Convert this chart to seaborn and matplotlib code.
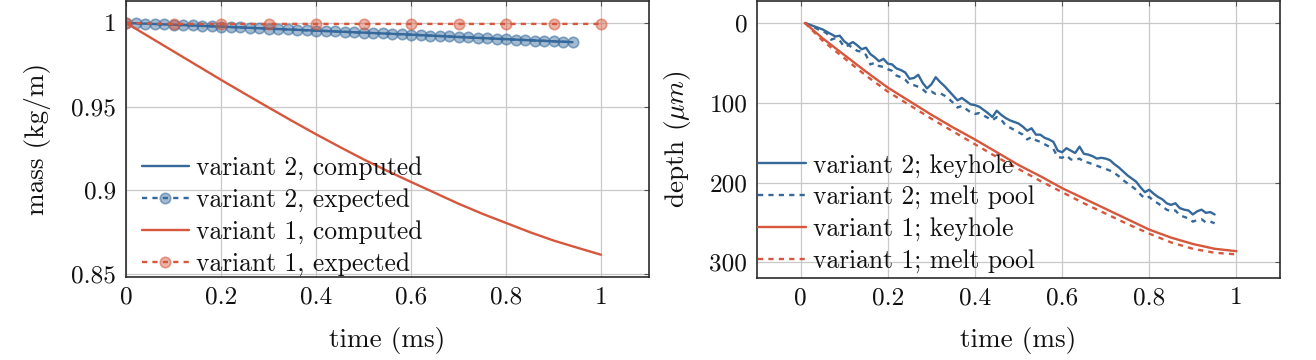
import matplotlib
matplotlib.use("Agg")
import matplotlib.pyplot as plt
from matplotlib.ticker import FuncFormatter, MultipleLocator
import seaborn as sns

BLUE = "#35699b"
RED = "#d7573d"

# ---- left panel: mass over time ----
t_v2 = [0.00, 0.02, 0.04, 0.06, 0.08, 0.10, 0.12, 0.14, 0.16, 0.18,
        0.20, 0.22, 0.24, 0.26, 0.28, 0.30, 0.32, 0.34, 0.36, 0.38,
        0.40, 0.42, 0.44, 0.46, 0.48, 0.50, 0.52, 0.54, 0.56, 0.58,
        0.60, 0.62, 0.64, 0.66, 0.68, 0.70, 0.72, 0.74, 0.76, 0.78,
        0.80, 0.82, 0.84, 0.86, 0.88, 0.90, 0.92, 0.94]
mass_v2_expected = [1.0000, 0.9998, 0.9996, 0.9994, 0.9991, 0.9989, 0.9987, 0.9985, 0.9982, 0.9980,
                    0.9978, 0.9976, 0.9973, 0.9971, 0.9969, 0.9966, 0.9964, 0.9961, 0.9959, 0.9956,
                    0.9954, 0.9952, 0.9949, 0.9947, 0.9944, 0.9942, 0.9940, 0.9937, 0.9935, 0.9932,
                    0.9930, 0.9927, 0.9924, 0.9922, 0.9919, 0.9916, 0.9914, 0.9911, 0.9908, 0.9906,
                    0.9903, 0.9900, 0.9898, 0.9895, 0.9893, 0.9890, 0.9888, 0.9885]
t_v2_comp = [0.0, 0.1, 0.2, 0.3, 0.4, 0.5, 0.6, 0.7, 0.8, 0.9, 0.94]
mass_v2_computed = [1.0, 0.9989, 0.9978, 0.9966, 0.9954, 0.9942, 0.9930, 0.9916, 0.9903, 0.9890, 0.9885]

t_v1 = [0.0, 0.05, 0.1, 0.15, 0.2, 0.25, 0.3, 0.35, 0.4, 0.45, 0.5,
        0.55, 0.6, 0.65, 0.7, 0.75, 0.8, 0.85, 0.9, 0.95, 1.0]
mass_v1_computed = [1.0, 0.9915, 0.983, 0.9745, 0.966, 0.9577, 0.9495, 0.9414, 0.9335, 0.9259, 0.9185,
                    0.9116, 0.905, 0.8985, 0.892, 0.886, 0.8805, 0.875, 0.870, 0.8657, 0.8615]
t_v1_exp = [0.0, 0.1, 0.2, 0.3, 0.4, 0.5, 0.6, 0.7, 0.8, 0.9, 1.0]
mass_v1_expected = [1.0, 0.9994, 0.9994, 0.9994, 0.9994, 0.9994, 0.9994, 0.9994, 0.9994, 0.9994, 0.9994]

# ---- right panel: depth over time ----
t_d2 = [0.01, 0.02, 0.03, 0.04, 0.05, 0.06, 0.07, 0.08, 0.09, 0.10,
        0.11, 0.12, 0.13, 0.14, 0.15, 0.16, 0.17, 0.18, 0.19, 0.20,
        0.21, 0.22, 0.23, 0.24, 0.25, 0.26, 0.27, 0.28, 0.29, 0.30,
        0.31, 0.32, 0.33, 0.34, 0.35, 0.36, 0.37, 0.38, 0.39, 0.40,
        0.41, 0.42, 0.43, 0.44, 0.45, 0.46, 0.47, 0.48, 0.49, 0.50,
        0.51, 0.52, 0.53, 0.54, 0.55, 0.56, 0.57, 0.58, 0.59, 0.60,
        0.61, 0.62, 0.63, 0.64, 0.65, 0.66, 0.67, 0.68, 0.69, 0.70,
        0.71, 0.72, 0.73, 0.74, 0.75, 0.76, 0.77, 0.78, 0.79, 0.80,
        0.81, 0.82, 0.83, 0.84, 0.85, 0.86, 0.87, 0.88, 0.89, 0.90,
        0.91, 0.92, 0.93, 0.94, 0.95]
keyhole_v2 = [0, 2, 4, 6, 8, 11, 14, 17, 16, 23,
              27, 24, 28, 33, 31, 39, 43, 48, 45, 51,
              52, 57, 59, 62, 70, 69, 65, 75, 82, 77,
              68, 74, 79, 85, 91, 97, 94, 98, 102, 103,
              105, 109, 113, 118, 110, 115, 119, 122, 124, 126,
              130, 135, 132, 140, 140, 144, 146, 149, 160, 162,
              157, 160, 163, 155, 164, 165, 167, 170, 169, 170,
              172, 177, 181, 186, 191, 195, 199, 206, 212, 209,
              214, 218, 221, 226, 228, 226, 232, 234, 235, 240,
              236, 234, 238, 237, 240]
meltpool_v2 = [0, 3, 5, 8, 10, 13, 21, 19, 22, 30,
               28, 31, 35, 36, 40, 52, 50, 54, 55, 58,
               60, 66, 68, 71, 77, 78, 80, 83, 88, 86,
               89, 88, 91, 95, 100, 106, 104, 108, 112, 114,
               113, 116, 119, 122, 118, 121, 128, 131, 134, 137,
               140, 146, 143, 147, 149, 152, 155, 158, 168, 169,
               166, 171, 172, 170, 174, 175, 177, 179, 181, 183,
               185, 188, 192, 197, 201, 205, 209, 215, 220, 218,
               223, 226, 230, 234, 236, 235, 241, 243, 245, 249,
               247, 246, 250, 249, 251]

t_d1 = [0.01, 0.05, 0.10, 0.15, 0.20, 0.25, 0.30, 0.35, 0.40, 0.45, 0.50,
        0.55, 0.60, 0.65, 0.70, 0.75, 0.80, 0.85, 0.90, 0.95, 1.00]
keyhole_v1 = [0, 19, 40, 61, 81, 98, 115, 131, 146, 162, 178,
              192, 207, 220, 233, 246, 259, 269, 277, 283, 286]
meltpool_v1 = [0, 22, 44, 66, 86, 103, 120, 136, 152, 168, 183,
               198, 212, 226, 239, 252, 264, 275, 283, 288, 290]

sns.set_theme(style="whitegrid")
plt.rcParams.update({
    "font.family": ["cmr10"],
    "mathtext.fontset": "cm",
    "axes.formatter.use_mathtext": True,
    "axes.edgecolor": "#2b2b2b",
    "axes.linewidth": 1.2,
    "grid.color": "#c8c8c8",
    "grid.linewidth": 0.9,
    "xtick.labelsize": 18.2,
    "ytick.labelsize": 18.2,
    "axes.labelsize": 19.6,
    "legend.fontsize": 18.4,
    "text.color": "#111111",
    "axes.labelcolor": "#111111",
    "xtick.color": "#111111",
    "ytick.color": "#111111",
})

fig = plt.figure(figsize=(13.16, 3.6), dpi=100)
ax1 = fig.add_axes([126 / 1316, 83 / 360, 522.5 / 1316, 276 / 360])
ax2 = fig.add_axes([757 / 1316, 82.5 / 360, 523 / 1316, 276.5 / 360])

fmt = FuncFormatter(lambda v, p: f"{v:g}")
dash = (0, (2.2, 2.2))
lw = 1.7

def rgba(c, a):
    r, g, b = matplotlib.colors.to_rgb(c)
    return (r, g, b, a)

leg_kw = dict(loc="lower left", frameon=False, handlelength=1.85,
              handletextpad=0.3, labelspacing=0.31, borderpad=0.3, borderaxespad=0.0)

# left
sns.lineplot(x=t_v2_comp, y=mass_v2_computed, ax=ax1, color=BLUE, lw=lw,
             estimator=None, label="variant 2, computed")
sns.lineplot(x=t_v2, y=mass_v2_expected, ax=ax1, color=BLUE, lw=lw, linestyle=dash,
             marker="o", markersize=7.5, markerfacecolor=rgba(BLUE, 0.45),
             markeredgecolor=rgba(BLUE, 0.55), markeredgewidth=1.2,
             estimator=None, label="variant 2, expected")
sns.lineplot(x=t_v1, y=mass_v1_computed, ax=ax1, color=RED, lw=lw,
             estimator=None, label="variant 1, computed")
sns.lineplot(x=t_v1_exp, y=mass_v1_expected, ax=ax1, color=RED, lw=lw, linestyle=dash,
             marker="o", markersize=7.5, markerfacecolor=rgba(RED, 0.45),
             markeredgecolor=rgba(RED, 0.55), markeredgewidth=1.2,
             estimator=None, label="variant 1, expected")
ax1.set_xlim(0, 1.1)
ax1.set_ylim(0.8482, 1.0131)
ax1.xaxis.set_major_locator(MultipleLocator(0.2))
ax1.yaxis.set_major_locator(MultipleLocator(0.05))
ax1.set_xlabel("time (ms)", labelpad=13)
ax1.set_ylabel("mass (kg/m)", labelpad=14.5)
ax1.legend(bbox_to_anchor=(0.015, -0.024), **leg_kw)

# right
sns.lineplot(x=t_d2, y=keyhole_v2, ax=ax2, color=BLUE, lw=lw,
             estimator=None, label="variant 2; keyhole")
sns.lineplot(x=t_d2, y=meltpool_v2, ax=ax2, color=BLUE, lw=lw, linestyle=dash,
             estimator=None, label="variant 2; melt pool")
sns.lineplot(x=t_d1, y=keyhole_v1, ax=ax2, color=RED, lw=lw,
             estimator=None, label="variant 1; keyhole")
sns.lineplot(x=t_d1, y=meltpool_v1, ax=ax2, color=RED, lw=lw, linestyle=dash,
             estimator=None, label="variant 1; melt pool")
ax2.set_xlim(-0.1, 1.1)
ax2.set_ylim(319, -27.5)
ax2.xaxis.set_major_locator(MultipleLocator(0.2))
ax2.yaxis.set_major_locator(MultipleLocator(100))
ax2.set_xlabel("time (ms)", labelpad=13)
ax2.set_ylabel(r"depth ($\mu m$)", labelpad=11.5)
ax2.legend(bbox_to_anchor=(-0.012, -0.012), **leg_kw)

for ax in (ax1, ax2):
    ax.xaxis.set_major_formatter(fmt)
    ax.yaxis.set_major_formatter(fmt)
    ax.tick_params(direction="in", length=3.5, width=0.8, color="#555555",
                   top=True, right=True, pad=7)
    for s in ax.spines.values():
        s.set_visible(True)
        s.set_color("#2b2b2b")
    ax.set_axisbelow(True)

fig.savefig("out.png", dpi=100)
